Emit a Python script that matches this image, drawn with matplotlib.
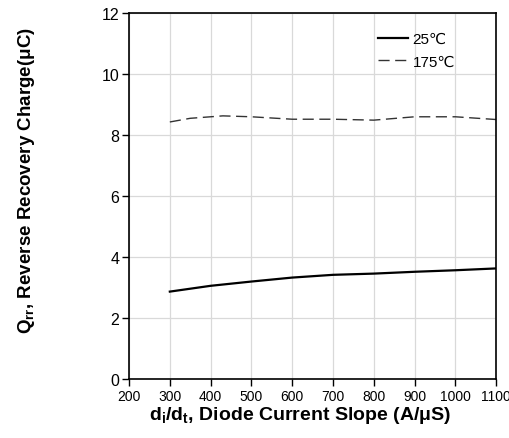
import numpy as np
import matplotlib.pyplot as plt

#-------------- Data --------------
slope = [300, 400, 500, 600, 700, 800, 900, 1000, 1100]
qrr_25 = [2.87, 3.06, 3.20, 3.33, 3.42, 3.46, 3.52, 3.57, 3.63]
slope_175 = [300, 350, 430, 500, 600, 700, 800, 900, 1000, 1100]
qrr_175 = [8.43, 8.55, 8.63, 8.60, 8.52, 8.52, 8.49, 8.60, 8.60, 8.51]
xticks = [200, 300, 400, 500, 600, 700, 800, 900, 1000, 1100]
yticks = [0, 2, 4, 6, 8, 10, 12]
#----------------------------------

plt.rcParams['font.family'] = ['Liberation Sans', 'DejaVu Sans']
plt.rcParams['mathtext.fontset'] = 'custom'
plt.rcParams['mathtext.rm'] = 'Liberation Sans'
plt.rcParams['mathtext.bf'] = 'Liberation Sans:bold'

fig = plt.figure(figsize=(5.10, 4.39), dpi=100)
ax = fig.add_axes([0.253, 0.134, 0.720, 0.834])

ax.plot(slope, qrr_25, color='black', lw=1.6, label='25℃')
ax.plot(slope_175, qrr_175, color='#333333', lw=1.0, dashes=(8, 4), label='175℃')

ax.set_xlim(200, 1100)
ax.set_ylim(0, 12)
ax.set_xticks(xticks)
ax.set_yticks(yticks)
ax.grid(True, color='#d9d9d9', lw=0.9)
ax.set_axisbelow(True)

for sp in ax.spines.values():
    sp.set_linewidth(1.2)
    sp.set_color('black')

ax.tick_params(direction='out', length=5, width=1, pad=2)
ax.tick_params(axis='x', labelsize=10)
ax.tick_params(axis='y', labelsize=11.5)

ax.set_xlabel(r'$\mathbf{d_i/d_t}$, Diode Current Slope (A/μS)', fontsize=14,
              fontweight='bold')
ax.set_ylabel(r'$\mathbf{Q_{rr}}$, Reverse Recovery Charge(μC)', fontsize=13.5,
              fontweight='bold')
ax.xaxis.set_label_coords(0.466, -0.068)
ax.yaxis.set_label_coords(-0.25, 0.546)

leg = ax.legend(loc='upper right', bbox_to_anchor=(0.905, 0.965), frameon=False,
                handlelength=2.0, handletextpad=0.3, labelspacing=0.55,
                borderaxespad=0, fontsize=11)

fig.savefig('out.png', dpi=100)
